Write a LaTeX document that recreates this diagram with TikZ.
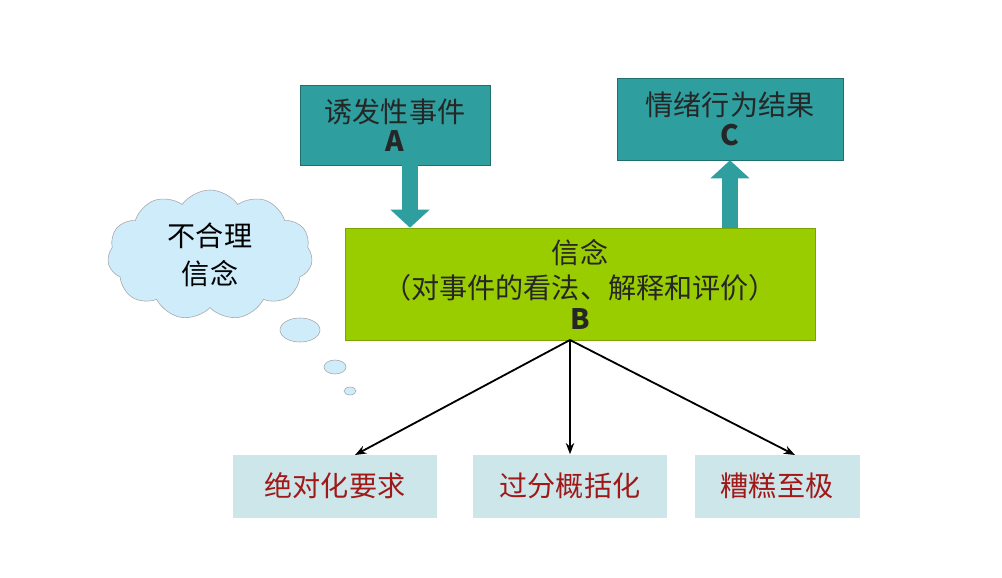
\documentclass[tikz,border=0pt]{standalone}
\usepackage{fontspec}
\setmainfont{Noto Sans CJK SC}
\usetikzlibrary{positioning,shapes.symbols,arrows.meta}
\definecolor{teal1}{HTML}{2E9E9E}
\definecolor{lime1}{HTML}{9ACD00}
\definecolor{pale1}{HTML}{CDE6EA}
\definecolor{cloud1}{HTML}{CFECFA}
\definecolor{red1}{HTML}{A01818}
\tikzset{
  topbox/.style={draw=teal1!70!black, fill=teal1, minimum width=190*0.025cm, minimum height=80*0.025cm, align=center, font=\fontsize{20}{25}\selectfont, text=black!85},
  belbox/.style={draw=lime1!80!black, fill=lime1, minimum width=470*0.025cm, minimum height=112*0.025cm, align=center, font=\fontsize{20}{25}\selectfont, text=black!85},
  subbox/.style={fill=pale1, minimum height=63*0.025cm, font=\fontsize{20}{24}\selectfont, text=red1},
  fat/.style={line width=16*0.025cm, draw=teal1, -{Triangle[width=38*0.025cm,length=18*0.025cm,fill=teal1]}},
  thin/.style={line width=1.3pt, -{Stealth[length=8pt]}}
}
\begin{document}
\begin{tikzpicture}[x=0.025cm,y=-0.025cm]
  \useasboundingbox[fill=white] (0,0) rectangle (1002,578);
  % top boxes
  \node[topbox] (A) at (395,125) {诱发性事件\\[-4pt]\textbf{A}};
  \node[topbox, minimum width=226*0.025cm, minimum height=82*0.025cm] (C) at (730,119) {情绪行为结果\\[-4pt]\textbf{C}};
  % belief
  \node[belbox] (B) at (580,284) {信念\\（对事件的看法、解释和评价）\\[-3pt]{\bfseries B}};
  \draw[fat] (A.south -| 410,0) -- (B.north -| 410,0);
  \draw[fat] (B.north -| 730,0) -- (C.south -| 730,0);
  % sub boxes
  \node[subbox, minimum width=204*0.025cm] (s1) at (335,486) {绝对化要求};
  \node[subbox, minimum width=194*0.025cm] (s2) at (570,486) {过分概括化};
  \node[subbox, minimum width=165*0.025cm] (s3) at (777,486) {糟糕至极};
  \coordinate (b0) at (570,340);
  \draw[thin] (b0) -- (355,455);
  \draw[thin] (b0) -- (s2.north);
  \draw[thin] (b0) -- (795,455);
  % cloud
  \node[cloud, cloud puffs=11, cloud puff arc=110, aspect=1.6, draw=gray!70, fill=cloud1, minimum width=205*0.025cm, minimum height=130*0.025cm, align=center, font=\fontsize{20}{27}\selectfont] (cl) at (210,255) {不合理\\信念};
  \draw[gray!70, fill=cloud1] (300,330) ellipse (20 and 12);
  \draw[gray!70, fill=cloud1] (335,367) ellipse (11 and 7);
  \draw[gray!70, fill=cloud1] (350,391) ellipse (6 and 4);
\end{tikzpicture}
\end{document}
